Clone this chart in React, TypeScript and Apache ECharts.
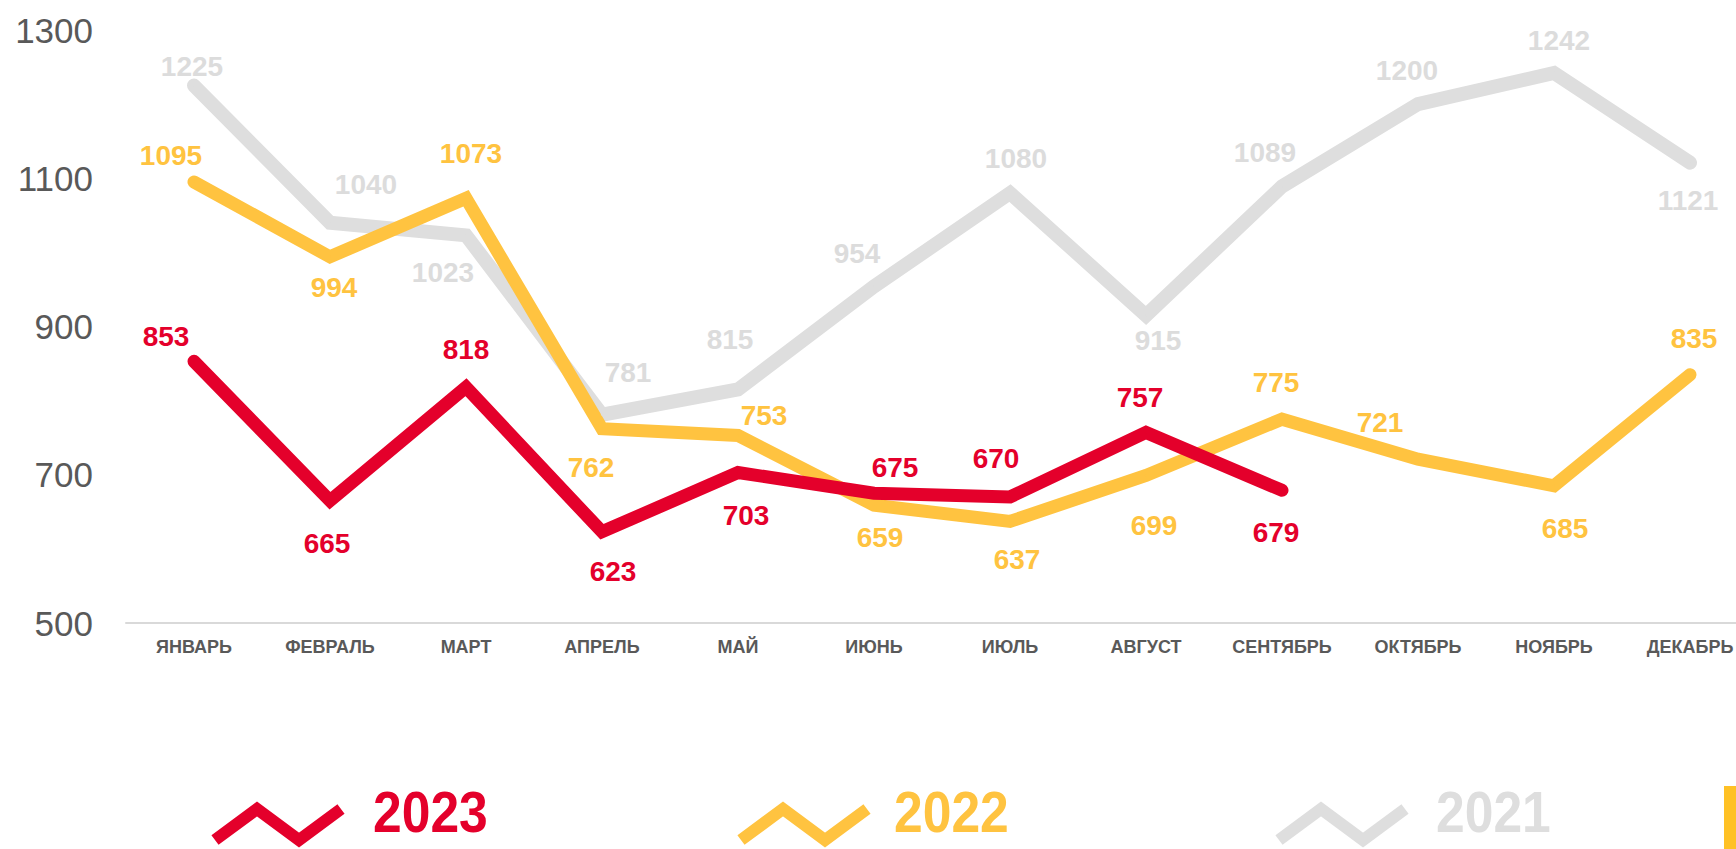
import React, { useEffect, useRef } from "react";
import * as echarts from "echarts";

const months = ["ЯНВАРЬ", "ФЕВРАЛЬ", "МАРТ", "АПРЕЛЬ", "МАЙ", "ИЮНЬ", "ИЮЛЬ", "АВГУСТ", "СЕНТЯБРЬ", "ОКТЯБРЬ", "НОЯБРЬ", "ДЕКАБРЬ"];
const values2021 = [1225, 1040, 1023, 781, 815, 954, 1080, 915, 1089, 1200, 1242, 1121];
const values2022 = [1095, 994, 1073, 762, 753, 659, 637, 699, 775, 721, 685, 835];
const values2023 = [853, 665, 818, 623, 703, 675, 670, 757, 679];
const seriesNames = ["2023", "2022", "2021"];
const yMin = 500;
const yMax = 1300;
const yInterval = 200;

// label placement (pixel offsets of each value label from its point)
const labelOffsets2021: [number, number][] = [
  [-2, -19], [36, -38], [-23, 37], [26, -42], [-8, -50], [-17, -33],
  [6, -35], [12, 25], [-17, -34], [-11, -34], [5, -32], [-2, 38],
];
const labelOffsets2022: [number, number][] = [
  [-23, -26], [4, 31], [5, -45], [-11, 39], [26, -20], [6, 32],
  [7, 38], [8, 50], [-6, -37], [-38, -37], [11, 43], [4, -36],
];
const labelOffsets2023: [number, number][] = [
  [-28, -25], [-3, 43], [0, -38], [11, 40], [8, 43], [21, -26],
  [-14, -38], [-6, -35], [-6, 42],
];

const RED = "#E4002B";
const YELLOW = "#FFC340";
const GRAY = "#DEDEDE";
const GRAY_TEXT = "#DCDCDC";
const AXIS_TEXT = "#595959";
const FONT = '"Liberation Sans", Arial, sans-serif';

function makeSeries(name: string, values: number[], offsets: [number, number][], color: string, labelColor: string, width: number) {
  return {
    name,
    type: "line",
    data: values.map((v, i) => ({ value: v, label: { offset: offsets[i] } })),
    symbol: "circle",
    symbolSize: 2,
    showSymbol: true,
    itemStyle: { color },
    lineStyle: { color, width, cap: "round", join: "miter" },
    label: {
      show: true,
      position: "inside",
      color: labelColor,
      fontSize: 28,
      fontWeight: "bold",
      fontFamily: FONT,
    },
    emphasis: { disabled: true },
    silent: true,
  };
}

function legendItem(x0: number, color: string, textX: number, text: string) {
  return [
    {
      type: "polyline",
      shape: { points: [[x0, 840], [x0 + 42, 809], [x0 + 84, 840], [x0 + 126, 809]] },
      style: { stroke: color, lineWidth: 12, fill: null, lineCap: "butt", lineJoin: "miter" },
    },
    {
      type: "text",
      x: textX,
      y: 812,
      scaleX: 0.89,
      style: {
        text,
        fill: color,
        fontSize: 58,
        lineHeight: 58,
        fontWeight: "bold",
        fontFamily: FONT,
        align: "left",
        verticalAlign: "middle",
      },
    },
  ];
}

export default function App() {
  const ref = useRef<HTMLDivElement>(null);
  useEffect(() => {
    if (!ref.current) return;
    const chart = echarts.init(ref.current, undefined, { renderer: "svg" });
    chart.setOption({
      animation: false,
      backgroundColor: "#ffffff",
      grid: { left: 126, right: 0, top: 30, bottom: 226, containLabel: false },
      xAxis: {
        type: "category",
        data: months,
        boundaryGap: true,
        axisLine: { show: true, lineStyle: { color: "#D9D9D9", width: 2 } },
        axisTick: { show: false },
        axisLabel: {
          color: AXIS_TEXT,
          fontSize: 18,
          fontWeight: "bold",
          fontFamily: FONT,
          margin: 15,
          interval: 0,
        },
      },
      yAxis: {
        type: "value",
        min: yMin,
        max: yMax,
        interval: yInterval,
        axisLine: { show: false },
        axisTick: { show: false },
        splitLine: { show: false },
        axisLabel: {
          color: AXIS_TEXT,
          fontSize: 35,
          fontFamily: FONT,
          margin: 33,
          formatter: (v: number) => String(v),
        },
      },
      series: [
        makeSeries(seriesNames[2], values2021, labelOffsets2021, GRAY, GRAY_TEXT, 14),
        makeSeries(seriesNames[1], values2022, labelOffsets2022, YELLOW, YELLOW, 13),
        makeSeries(seriesNames[0], values2023, labelOffsets2023, RED, RED, 13),
      ],
      graphic: [
        ...legendItem(215, RED, 373, seriesNames[0]),
        ...legendItem(741, YELLOW, 894, seriesNames[1]),
        ...legendItem(1279, GRAY, 1436, seriesNames[2]),
        { type: "rect", shape: { x: 1724, y: 786, width: 12, height: 63 }, style: { fill: "#FFC125" } },
      ],
    });
    return () => chart.dispose();
  }, []);
  return (
    <div style={{ position: "fixed", left: 0, top: 0, width: 1736, height: 849, overflow: "hidden", background: "#fff" }}>
      <div ref={ref} style={{ width: 1758, height: 849 }} />
    </div>
  );
}
